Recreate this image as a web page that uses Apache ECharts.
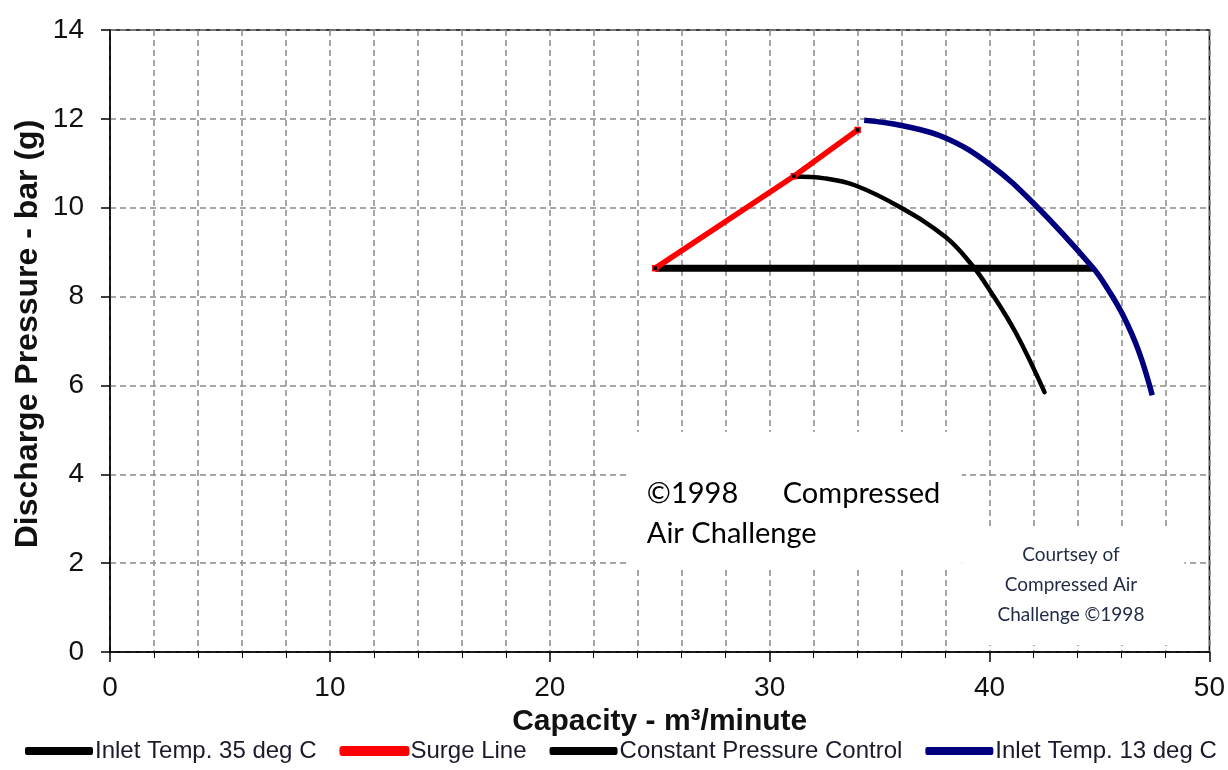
<!DOCTYPE html>
<html><head><meta charset="utf-8">
<script src="https://cdn.jsdelivr.net/npm/echarts@6/dist/echarts.min.js"></script>
<style>html,body{margin:0;padding:0;background:#fff}#c{width:1228px;height:770px}</style>
</head><body><div id="c"></div>
<script>
const seriesNames = ['Inlet Temp. 35 deg C','Surge Line','Constant Pressure Control','Inlet Temp. 13 deg C'];
const inlet35 = [[31.1,10.7],[32.5,10.66],[33.9,10.5],[35.9,10.02],[38.0,9.34],[39.2,8.71],[40.0,8.15],[41.2,7.18],[42.5,5.85]];
const surge = [[24.8,8.64],[31.1,10.71],[34.0,11.75]];
const constPressure = [[24.8,8.64],[44.7,8.64]];
const inlet13 = [[34.3,11.97],[36.0,11.85],[38.0,11.57],[40.0,10.98],[42.0,10.1],[44.7,8.65],[45.4,8.15],[46.1,7.55],[46.8,6.75],[47.4,5.78]];
const xTitle = 'Capacity - m³/minute';
const yTitle = 'Discharge Pressure - bar (g)';
const note1 = ['©1998      Compressed','Air Challenge'];
const note2 = ['Courtsey of','Compressed Air','Challenge ©1998'];

const chart = echarts.init(document.getElementById('c'), null, {renderer:'canvas'});
const grid = {left:110, right:18, top:30, bottom:118, show:true, borderColor:'#000', borderWidth:1.5, backgroundColor:'transparent'};
const dash = {color:'#8a8a8a', width:1.5, type:[6,4]};
const font = 'Arial, "Liberation Sans", sans-serif';
chart.setOption({
  animation:false,
  grid: grid,
  legend: {
    bottom: 2, left: 20, itemGap: 23, itemWidth: 68, itemHeight: 8, icon: 'roundRect',
    textStyle:{fontFamily:font, fontSize:24, color:'#1a1a2a', padding:[0,0,0,-3]},
    data: [
      {name:seriesNames[0], itemStyle:{color:'#000'}},
      {name:seriesNames[1], itemStyle:{color:'#ff0000'}},
      {name:seriesNames[2], itemStyle:{color:'#000'}},
      {name:seriesNames[3], itemStyle:{color:'#00007f'}}
    ]
  },
  xAxis: {
    type:'value', min:0, max:50, interval:10,
    name:xTitle, nameLocation:'middle', nameGap:55,
    nameTextStyle:{fontFamily:font, fontSize:30, fontWeight:'bold', color:'#111'},
    axisLine:{show:true, lineStyle:{color:'#000', width:1.5}},
    axisTick:{show:true, length:10, lineStyle:{color:'#000', width:1.5}},
    minorTick:{show:true, splitNumber:5, length:6, lineStyle:{color:'#000', width:1}},
    axisLabel:{fontFamily:font, fontSize:28, color:'#111', margin:22},
    splitLine:{show:true, lineStyle:dash},
    minorSplitLine:{show:true, lineStyle:dash}
  },
  yAxis: {
    type:'value', min:0, max:14, interval:2,
    axisLine:{show:true, lineStyle:{color:'#000', width:1.5}},
    axisTick:{show:true, length:9, lineStyle:{color:'#000', width:1.5}},
    axisLabel:{fontFamily:font, fontSize:28, color:'#111', margin:26},
    splitLine:{show:true, lineStyle:dash}
  },
  series: [
    {name:seriesNames[0], type:'line', data:inlet35, smooth:0.4, showSymbol:false, symbol:'none',
     lineStyle:{color:'#000', width:4.5, cap:'round'}, itemStyle:{color:'#000'}, z:3},
    {name:seriesNames[2], type:'line', data:constPressure, showSymbol:false, symbol:'none',
     lineStyle:{color:'#000', width:7}, itemStyle:{color:'#000'}, z:3},
    {name:seriesNames[1], type:'line', data:surge, symbol:'rect', symbolSize:5, showSymbol:true,
     lineStyle:{color:'#ff0000', width:5.5}, itemStyle:{color:'#000', borderColor:'#ff0000', borderWidth:1.5}, z:4},
    {name:seriesNames[3], type:'line', data:inlet13, smooth:0.4, showSymbol:false, symbol:'none',
     lineStyle:{color:'#00007f', width:5.5}, itemStyle:{color:'#00007f'}, z:3}
  ]
});

function px(x,y){ return chart.convertToPixel({gridIndex:0},[x,y]); }
// note boxes placed in data space
const b1a = px(23.55,4.95), b1b = px(38.73,1.89);
const b2a = px(38.73,2.75), b2b = px(48.86,0.16);
chart.setOption({
  graphic: [
    {type:'rect', z:1, shape:{x:b1a[0], y:b1a[1], width:b1b[0]-b1a[0], height:b1b[1]-b1a[1]}, style:{fill:'#fff'}},
    {type:'rect', z:1, shape:{x:b2a[0], y:b2a[1], width:b2b[0]-b2a[0], height:b2b[1]-b2a[1]}, style:{fill:'#fff'}},
    {type:'text', z:5, left:b1a[0]+19, top:b1a[1]+42,
     style:{text:note1.join('\n'), font:'29px Lato, "Open Sans", sans-serif', fill:'#000', lineHeight:40}},
    {type:'text', z:5, style:{x:(b2a[0]+b2b[0])/2 - 2, y:b2a[1]+10, text:note2.join('\n'), textAlign:'center',
     font:'19px Lato, "Open Sans", sans-serif', fill:'#1f2a44', lineHeight:30}},
    {type:'text', z:5, x:28, y:334, rotation:Math.PI/2,
     style:{text:yTitle, font:'bold 32px Arial, "Liberation Sans", sans-serif', fill:'#111', textAlign:'center', textVerticalAlign:'middle'}}
  ]
});
</script></body></html>
